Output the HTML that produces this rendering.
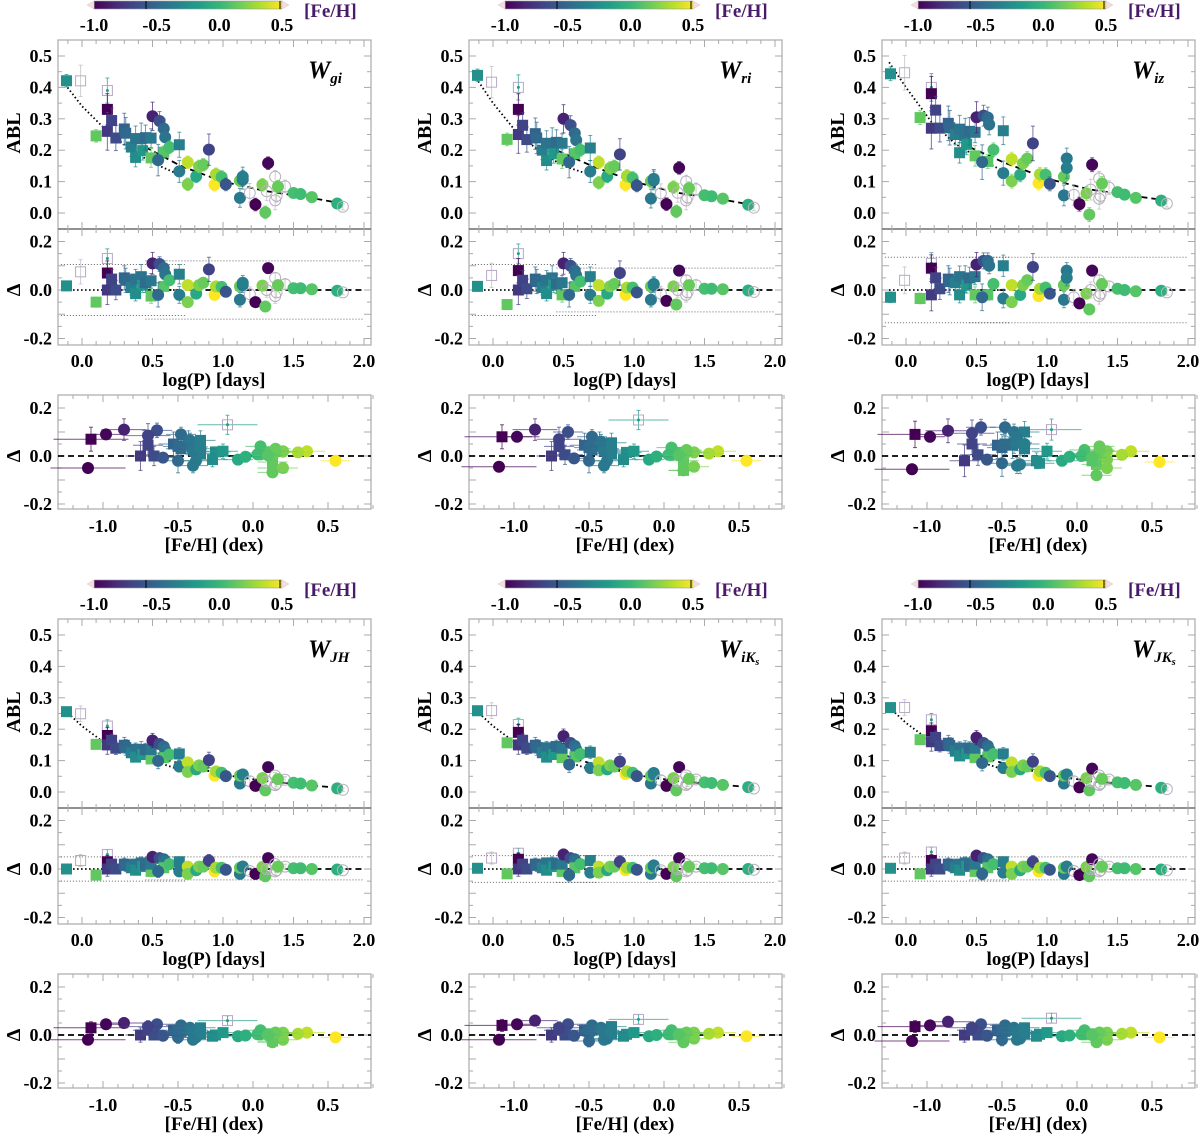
<!DOCTYPE html>
<html><head><meta charset="utf-8">
<style>
html,body{margin:0;padding:0;background:#fff;}
svg{display:block;font-family:"Liberation Serif",serif;font-weight:bold;}
</style></head>
<body>
<svg id="fig" width="1200" height="1136" viewBox="0 0 1200 1136" xmlns="http://www.w3.org/2000/svg"></svg>
<script>
// ---- star data (shared) ----
const logP = [-0.11,-0.01,0.10,0.18,0.18,0.18,0.21,0.24,0.30,0.31,0.35,0.38,0.38,0.42,0.43,0.45,0.49,0.49,0.50,0.55,0.58,0.59,0.58,0.54,0.62,0.69,0.69,0.75,0.75,0.81,0.83,0.86,0.90,0.94,0.95,0.99,1.02,1.12,1.12,1.14,1.14,1.19,1.23,1.28,1.30,1.32,1.31,1.37,1.37,1.38,1.44,1.39,1.50,1.55,1.63,1.81,1.85];
const feh = [-0.25,null,0.13,-0.17,-1.08,-0.75,-0.70,-0.66,-0.53,-0.50,-0.35,-0.42,-0.27,-0.43,-0.20,-0.48,0.13,-0.40,-0.86,-0.64,-0.48,-0.42,0.10,-0.50,0.05,-0.35,-0.38,0.36,0.20,-0.10,0.20,0.15,-0.70,0.55,0.30,0.05,-0.60,-0.40,0.15,-0.40,-0.35,null,-1.10,0.20,0.13,-0.98,null,null,null,null,null,0.15,0.05,0.03,0.10,-0.05,null];
const shape = ['s','os','s','osd','s','s','s','s','s','s','s','s','s','s','s','s','s','s','c','c','c','c','s','c','c','s','c','c','c','c','c','c','c','c','c','c','c','c','c','c','c','oc','c','c','c','c','oc','oc','oc','oc','oc','c','c','c','c','c','oc'];
const dErr = [0.02,0.05,0.02,0.04,0.05,0.06,0.04,0.04,0.05,0.05,0.03,0.04,0.03,0.05,0.03,0.04,0.03,0.03,0.045,0.03,0.03,0.03,0.02,0.05,0.02,0.04,0.035,0.02,0.02,0.02,0.02,0.02,0.05,0.02,0.02,0.02,0.02,0.03,0.02,0.03,0.03,0.03,0.02,0.02,0.02,0.02,0.03,0.02,0.03,0.02,0.02,0.02,0.01,0.01,0.01,0.01,0.01];
const fehErr = [0.1,0,0.1,0.2,0.25,0.1,0.1,0.12,0.1,0.1,0.1,0.1,0.1,0.1,0.1,0.1,0.1,0.1,0.15,0.1,0.1,0.1,0.1,0.1,0.1,0.1,0.1,0.12,0.1,0.1,0.1,0.1,0.15,0.1,0.1,0.1,0.1,0.1,0.1,0.1,0.1,0,0.25,0.1,0.1,0.1,0,0,0,0,0,0.1,0.1,0.1,0.1,0.1,0];
// ---- per-panel residuals ----
const dGi = [0.017,0.075,-0.05,0.13,0.07,0.0,0.045,0.0,0.05,0.04,0.01,0.045,-0.015,0.055,0.02,0.03,-0.025,0.038,0.11,0.107,0.09,0.065,0.015,-0.02,0.04,0.065,-0.02,0.02,-0.05,-0.015,0.02,0.03,0.085,-0.02,0.015,0.013,-0.007,-0.04,0.015,0.02,0.03,-0.017,-0.05,0.018,-0.068,0.09,0.0,0.05,-0.025,-0.01,0.024,0.02,0.007,0.007,0.003,-0.003,-0.01];
const dRi = [0.015,0.06,-0.06,0.15,0.08,0.0,0.04,0.005,0.045,0.035,0.01,0.04,-0.015,0.05,0.02,0.025,-0.02,0.03,0.11,0.1,0.08,0.06,0.015,-0.02,0.035,0.055,-0.02,0.02,-0.045,-0.015,0.015,0.025,0.07,-0.02,0.01,0.01,-0.01,-0.04,0.015,0.02,0.025,-0.015,-0.045,0.015,-0.06,0.08,0.0,0.04,-0.02,-0.01,0.02,0.02,0.005,0.005,0.003,-0.002,-0.008];
const dIz = [-0.03,0.04,-0.035,0.11,0.09,-0.02,0.05,0.005,0.045,0.035,0.03,0.055,-0.02,0.045,0.02,0.05,-0.02,0.055,0.105,0.12,0.12,0.1,-0.02,-0.03,0.025,0.1,-0.035,0.02,-0.05,-0.02,0.02,0.04,0.095,-0.025,0.005,0.01,-0.015,-0.04,0.02,0.08,0.05,-0.03,-0.055,-0.015,-0.08,0.08,0.0,0.04,-0.025,-0.015,0.015,0.025,0.005,0.0,-0.005,-0.003,-0.01];
const dJH = [0.0,0.035,-0.025,0.06,0.03,0.0,0.02,0.0,0.02,0.015,0.005,0.02,-0.005,0.025,0.01,0.015,-0.01,0.02,0.05,0.045,0.04,0.03,0.005,-0.01,0.02,0.03,-0.01,0.01,-0.02,-0.005,0.01,0.01,0.035,-0.01,0.005,0.005,-0.003,-0.02,0.005,0.01,0.01,-0.008,-0.02,0.008,-0.03,0.045,0.0,0.02,-0.01,-0.005,0.01,0.01,0.003,0.003,0.0,-0.002,-0.005];
const dIK = [0.003,0.045,-0.02,0.065,0.04,0.0,0.02,0.0,0.02,0.015,0.005,0.025,-0.005,0.025,0.01,0.02,-0.01,0.02,0.06,0.045,0.04,0.03,0.005,-0.025,0.02,0.035,-0.015,0.01,-0.015,-0.005,0.01,0.01,0.03,-0.005,0.005,0.005,-0.003,-0.02,0.005,0.015,0.01,-0.005,-0.02,0.008,-0.03,0.045,0.0,0.02,-0.01,-0.005,0.01,0.01,0.003,0.003,0.0,0.0,-0.003];
const dJK = [0.003,0.045,-0.02,0.07,0.035,0.0,0.02,0.0,0.02,0.015,0.005,0.02,-0.005,0.025,0.01,0.015,-0.01,0.02,0.055,0.045,0.04,0.03,0.005,-0.02,0.02,0.03,-0.015,0.01,-0.02,-0.005,0.01,0.01,0.03,-0.01,0.005,0.005,-0.003,-0.02,0.005,0.01,0.01,-0.008,-0.025,0.008,-0.03,0.04,0.0,0.02,-0.01,-0.005,0.01,0.01,0.003,0.003,0.0,-0.002,-0.005];
// ---- per-panel fit knots ----
const dotP = [-0.12,0.0,0.18,0.35,0.5,0.7];
const dashP = [0.45,0.7,1.0,1.3,1.6,1.85];
const dotGi=[0.41,0.34,0.26,0.20,0.16,0.12], dashGi=[0.21,0.15,0.10,0.07,0.05,0.03];
const dotRi=[0.43,0.35,0.25,0.19,0.15,0.12], dashRi=[0.20,0.15,0.10,0.065,0.045,0.025];
const dotIz=[0.48,0.40,0.29,0.22,0.18,0.13], dashIz=[0.21,0.16,0.11,0.075,0.055,0.04];
const dotJH=[0.26,0.21,0.15,0.12,0.10,0.07], dashJH=[0.12,0.09,0.055,0.035,0.022,0.012];
const dotIK=[0.26,0.21,0.15,0.12,0.10,0.07], dashIK=[0.125,0.09,0.055,0.035,0.024,0.014];
const dotJK=[0.27,0.22,0.16,0.125,0.10,0.07], dashJK=[0.125,0.09,0.055,0.035,0.024,0.014];
const sigGi=[0.105,-0.105,0.12,-0.12], sigRi=[0.105,-0.105,0.09,-0.09], sigIz=[0.135,-0.135,0.135,-0.135];
const sigJH=[0.05,-0.05,0.05,-0.045], sigIK=[0.055,-0.055,0.055,-0.055], sigJK=[0.05,-0.05,0.05,-0.045];
const errScale=[1,1,1.1,0.5,0.5,0.5];
const xTicksP=[0.0,0.5,1.0,1.5,2.0], xTicksF=[-1.0,-0.5,0.0,0.5], cbTicks=[-1.0,-0.5,0.0,0.5];

const panels=[
 {ox:0,oy:0,sub:'gi',d:dGi,dot:dotGi,dash:dashGi,sig:sigGi,key:'wgi'},
 {ox:411,oy:0,sub:'ri',d:dRi,dot:dotRi,dash:dashRi,sig:sigRi,key:'wri'},
 {ox:824,oy:0,sub:'iz',d:dIz,dot:dotIz,dash:dashIz,sig:sigIz,key:'wiz'},
 {ox:0,oy:579,sub:'JH',d:dJH,dot:dotJH,dash:dashJH,sig:sigJH,key:'wjh'},
 {ox:411,oy:579,sub:'iK',d:dIK,dot:dotIK,dash:dashIK,sig:sigIK,key:'wiks'},
 {ox:824,oy:579,sub:'JK',d:dJK,dot:dotJK,dash:dashJK,sig:sigJK,key:'wjks'}];

const NS='http://www.w3.org/2000/svg';
const svg=document.getElementById('fig');
function el(tag,attrs,parent){const e=document.createElementNS(NS,tag);for(const k in attrs)e.setAttribute(k,attrs[k]);(parent||svg).appendChild(e);return e;}
const vir=[[68,1,84],[72,40,120],[62,74,137],[49,104,142],[38,130,142],[31,158,137],[53,183,121],[109,205,89],[180,222,44],[253,231,37]];
function cmap(v){let t=(v+1.0)/1.5;t=Math.max(0,Math.min(1,t))*(vir.length-1);const i=Math.min(vir.length-2,Math.floor(t)),f=t-i;const c=vir[i].map((a,k)=>Math.round(a+(vir[i+1][k]-a)*f));return 'rgb('+c.join(',')+')';}
function interp(xs,ys,x){if(x<=xs[0])return ys[0]+(ys[1]-ys[0])*(x-xs[0])/(xs[1]-xs[0]);for(let i=0;i<xs.length-1;i++){if(x<=xs[i+1]){return ys[i]+(ys[i+1]-ys[i])*(x-xs[i])/(xs[i+1]-xs[i]);}}const n=xs.length;return ys[n-1]+(ys[n-1]-ys[n-2])*(x-xs[n-1])/(xs[n-1]-xs[n-2]);}
function fmt(v){return v.toFixed(1);}

panels.forEach((p,pi)=>{
 const g=el('g',{});
 
 
 const ox=p.ox,oy=p.oy;
 const xP=v=>ox+82+141*v, yT=v=>oy+213-314*v, yM=v=>oy+290-242.5*v, xF=v=>ox+253+150*v, yB=v=>oy+456-240*v;
 const defs=el('defs',{},g);
 const lg=el('linearGradient',{id:'cb'+pi,x1:'0',x2:'1',y1:'0',y2:'0'},defs);
 vir.forEach((c,i)=>el('stop',{offset:(i/(vir.length-1)),'stop-color':'rgb('+c.join(',')+')'},lg));
 const cb=el('rect',{x:ox+94,y:oy+1,width:188,height:8,fill:'url(#cb'+pi+')',stroke:'#999','stroke-width':0.6},g);
 
 
 el('polygon',{points:`${ox+94},${oy+1} ${ox+94},${oy+9} ${ox+87},${oy+5}`,fill:'#f6dcdc',stroke:'#ccc','stroke-width':0.5},g);
 el('polygon',{points:`${ox+282},${oy+1} ${ox+282},${oy+9} ${ox+289},${oy+5}`,fill:'#f6dcdc',stroke:'#ccc','stroke-width':0.5},g);
 el('line',{x1:ox+146,x2:ox+146,y1:oy+1,y2:oy+9,stroke:'#000','stroke-width':1},g);
 el('line',{x1:ox+280,x2:ox+280,y1:oy+1,y2:oy+9,stroke:'#000','stroke-width':1},g);
 cbTicks.forEach(v=>{const t=el('text',{x:ox+94+(v+1)/1.5*188,y:oy+31,'font-size':18,'text-anchor':'middle'},g);t.textContent=fmt(v);
  
  });
 const cl=el('text',{x:ox+304,y:oy+17,'font-size':19,fill:'#4a1a6a'},g);cl.textContent='[Fe/H]';
 
 
 const boxes=[[oy+40,189,'abl-plot'],[oy+229,116,'residual-logp-plot'],[oy+395,114,'residual-feh-plot']];
 boxes.forEach(b=>{const r=el('rect',{x:ox+58,y:b[0],width:313,height:b[1],fill:'none',stroke:'#aaa','stroke-width':1.2},g);
  
  });
 el('line',{x1:ox+58,x2:ox+371,y1:oy+229,y2:oy+229,stroke:'#777','stroke-width':1.6},g);
 for(let v=-0.1;v<=2.01;v+=0.1){const maj=Math.abs(v*2-Math.round(v*2))<0.01;const L=maj?7:4;const x=xP(v);
  [[oy+229,oy+40],[oy+345,oy+229]].forEach(([yb,yt])=>{el('line',{x1:x,x2:x,y1:yb,y2:yb-L,stroke:'#aaa'},g);el('line',{x1:x,x2:x,y1:yt,y2:yt+L,stroke:'#aaa'},g);});}
 xTicksP.forEach(v=>{const t=el('text',{x:xP(v),y:oy+367,'font-size':18,'text-anchor':'middle'},g);t.textContent=fmt(v);
  
  });
 const xt=el('text',{x:ox+214,y:oy+386,'font-size':19,'text-anchor':'middle'},g);xt.textContent='log(P) [days]';
 
 
 for(let v=-1.2;v<=0.81;v+=0.1){const maj=Math.abs(v*2-Math.round(v*2))<0.01;const L=maj?7:4;const x=xF(v);
  el('line',{x1:x,x2:x,y1:oy+509,y2:oy+509-L,stroke:'#aaa'},g);el('line',{x1:x,x2:x,y1:oy+395,y2:oy+395+L,stroke:'#aaa'},g);}
 xTicksF.forEach(v=>{const t=el('text',{x:xF(v),y:oy+532,'font-size':18,'text-anchor':'middle'},g);t.textContent=fmt(v);
  
  });
 const ft=el('text',{x:ox+214,y:oy+551,'font-size':19,'text-anchor':'middle'},g);ft.textContent='[Fe/H] (dex)';
 
 
 for(let v=0;v<=0.51;v+=0.05){const maj=Math.abs(v*10-Math.round(v*10))<0.01;const L=maj?7:4;const y=yT(v);
  el('line',{x1:ox+58,x2:ox+58+L,y1:y,y2:y,stroke:'#aaa'},g);el('line',{x1:ox+371,x2:ox+371-L,y1:y,y2:y,stroke:'#aaa'},g);
  if(maj){const t=el('text',{x:ox+52,y:y+6,'font-size':18,'text-anchor':'end'},g);t.textContent=fmt(v);
   
   }}
 for(let v=-0.2;v<=0.21;v+=0.05){const maj=Math.abs(v*10-Math.round(v*10))<0.01;const L=maj?7:4;
  [yM(v),yB(v)].forEach(y=>{el('line',{x1:ox+58,x2:ox+58+L,y1:y,y2:y,stroke:'#aaa'},g);el('line',{x1:ox+371,x2:ox+371-L,y1:y,y2:y,stroke:'#aaa'},g);});
  if(maj&&Math.abs(Math.round(v*10))%2===0){[yM(v),yB(v)].forEach(y=>{const t=el('text',{x:ox+52,y:y+6,'font-size':18,'text-anchor':'end'},g);t.textContent=fmt(Math.abs(v)<1e-6?0:v);
   
   });}}
 const ya=el('text',{x:0,y:0,'font-size':20,'text-anchor':'middle',transform:`translate(${ox+20},${oy+133}) rotate(-90)`},g);ya.textContent='ABL';
 
 
 [oy+290,oy+456].forEach(yy=>{const t=el('text',{x:0,y:0,'font-size':20,'text-anchor':'middle',transform:`translate(${ox+20},${yy}) rotate(-90)`},g);t.textContent='Δ';
  
  });
 const lb=el('text',{x:ox+308,y:oy+78,'font-size':25,'font-style':'italic'},g);
 
 
 const t1=el('tspan',{},lb);t1.textContent='W';
 const t2=el('tspan',{'font-size':15,dy:5},lb);t2.textContent=p.sub;
 if(p.sub.endsWith('K')){const t3=el('tspan',{'font-size':10,dy:3},lb);t3.textContent='s';}
 const cp=el('clipPath',{id:'clipT'+pi},defs);el('rect',{x:ox+58,y:oy+40,width:313,height:189},cp);
 const cpm=el('clipPath',{id:'clipM'+pi},defs);el('rect',{x:ox+58,y:oy+229,width:313,height:116},cpm);
 let dd='';for(let i=0;i<dotP.length;i++)dd+=(i?'L':'M')+xP(dotP[i]).toFixed(1)+','+yT(p.dot[i]).toFixed(1);
 const fl1=el('path',{d:dd,fill:'none',stroke:'#000','stroke-width':1.8,'stroke-dasharray':'1.5,2.5'},g);
 
 
 dd='';for(let i=0;i<dashP.length;i++)dd+=(i?'L':'M')+xP(dashP[i]).toFixed(1)+','+yT(p.dash[i]).toFixed(1);
 const fl2=el('path',{d:dd,fill:'none',stroke:'#000','stroke-width':1.8,'stroke-dasharray':'6,4'},g);
 
 
 el('line',{x1:xP(-0.12),x2:xP(0.7),y1:yM(0),y2:yM(0),stroke:'#000','stroke-width':1.8,'stroke-dasharray':'1.5,2.5'},g);
 el('line',{x1:xP(0.45),x2:xP(2.0),y1:yM(0),y2:yM(0),stroke:'#000','stroke-width':1.8,'stroke-dasharray':'6,4'},g);
 el('line',{x1:xP(-0.15),x2:xP(0.73),y1:yM(p.sig[0]),y2:yM(p.sig[0]),stroke:'#666','stroke-width':1,'stroke-dasharray':'1,2'},g);
 el('line',{x1:xP(-0.15),x2:xP(0.73),y1:yM(p.sig[1]),y2:yM(p.sig[1]),stroke:'#666','stroke-width':1,'stroke-dasharray':'1,2'},g);
 el('line',{x1:xP(0.45),x2:xP(2.0),y1:yM(p.sig[2]),y2:yM(p.sig[2]),stroke:'#666','stroke-width':1,'stroke-dasharray':'1,2'},g);
 el('line',{x1:xP(0.45),x2:xP(2.0),y1:yM(p.sig[3]),y2:yM(p.sig[3]),stroke:'#666','stroke-width':1,'stroke-dasharray':'1,2'},g);
 el('line',{x1:ox+58,x2:ox+371,y1:yB(0),y2:yB(0),stroke:'#000','stroke-width':1.8,'stroke-dasharray':'6,4'},g);
 const es=errScale[pi];
 function marker(x,y,s,col,name,parent){
  let m;
  if(s==='s') m=el('rect',{x:x-5.5,y:y-5.5,width:11,height:11,fill:col},parent);
  else if(s==='c') m=el('circle',{cx:x,cy:y,r:6,fill:col},parent);
  else if(s==='os'||s==='osd'){m=el('rect',{x:x-5,y:y-5,width:10,height:10,fill:'none',stroke:'#b8a8c8','stroke-width':1},parent);}
  else m=el('circle',{cx:x,cy:y,r:5.5,fill:'none',stroke:'#b8b0c0','stroke-width':1},parent);
  
  
  if(s==='osd')el('circle',{cx:x,cy:y,r:1.5,fill:col},parent);
 }
 function vbar(x,y1,y2,c,parent){el('line',{x1:x,x2:x,y1:y1,y2:y2,stroke:c,'stroke-width':1,opacity:0.7},parent);
  el('line',{x1:x-2,x2:x+2,y1:y1,y2:y1,stroke:c,'stroke-width':1,opacity:0.7},parent);
  el('line',{x1:x-2,x2:x+2,y1:y2,y2:y2,stroke:c,'stroke-width':1,opacity:0.7},parent);}
 logP.forEach((lp,i)=>{
  const d=p.d[i];
  const base=lp<0.45?interp(dotP,p.dot,lp):interp(dashP,p.dash,lp);
  const abl=base+d;
  const hasF=feh[i]!==null;
  const col=hasF?cmap(feh[i]):'#aaa';
  const err=dErr[i]*es*(shape[i]==='c'&&lp>1.45?0.6:1);
  const ec=hasF?col:'#bbb';
  const gT=el('g',{'clip-path':'url(#clipT'+pi+')'},g);
  vbar(xP(lp),yT(abl-err),yT(abl+err),ec,gT);
  marker(xP(lp),yT(abl),shape[i],col,'abl-point',gT);
  const gM=el('g',{'clip-path':'url(#clipM'+pi+')'},g);
  vbar(xP(lp),yM(d-err),yM(d+err),ec,gM);
  marker(xP(lp),yM(d),shape[i],col,'residual-point',gM);
  if(hasF){
   const fe=fehErr[i];
   el('line',{x1:xF(feh[i]-fe),x2:xF(feh[i]+fe),y1:yB(d),y2:yB(d),stroke:col,'stroke-width':1,opacity:0.7},g);
   vbar(xF(feh[i]),yB(d-err),yB(d+err),col,g);
   marker(xF(feh[i]),yB(d),shape[i],col,'feh-residual-point',g);
  }
 });
});
</script>
</body></html>
